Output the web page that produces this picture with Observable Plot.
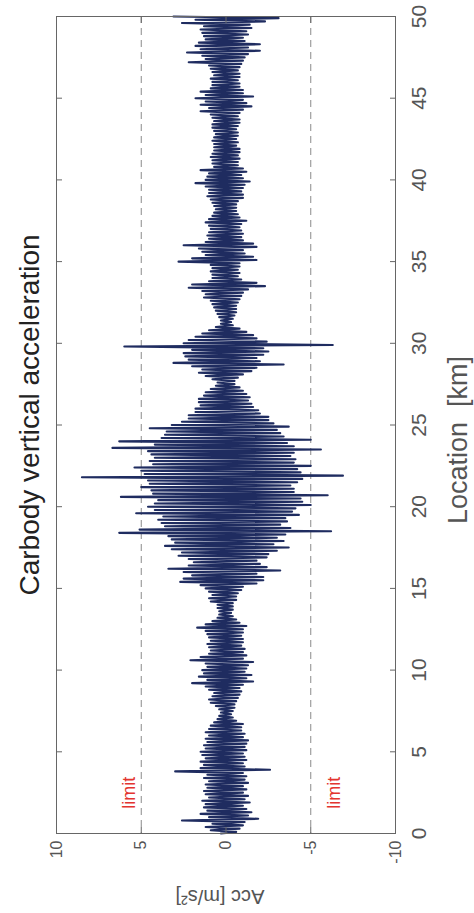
<!DOCTYPE html>
<html><head><meta charset="utf-8">
<script src="https://cdn.jsdelivr.net/npm/d3@7"></script>
<script src="https://cdn.jsdelivr.net/npm/@observablehq/plot@0.6"></script>
<style>
html,body{margin:0;padding:0;background:#fff;}
#chart svg{display:block;}
</style></head>
<body><div id="chart"></div>
<script>
const title = "Carbody vertical acceleration";
const locationLabel = "Location  [km]";
const accLabel = "Acc [m/s²]";
const limitText = "limit";
const locationTicks = [0, 5, 10, 15, 20, 25, 30, 35, 40, 45, 50];
const accTicks = [10, 5, 0, -5, -10];
const limits = [5, -5];
const limitLabels = [{km: 2.5, acc: 5.7}, {km: 2.5, acc: -6.4}];
const locationStartKm = 0;
const locationStepKm = 0.1;
// vertical acceleration samples, one every 0.1 km (rows = 1 km)
const acc = [
 0.3,-0.6,0.9,-0.8,1.2,-1.0,0.8,-1.1,2.6,-1.9,
 1.0,-1.3,1.5,-1.5,1.1,-1.2,1.3,-1.0,1.2,-1.4,
 1.4,-1.1,1.0,-1.3,1.2,-1.0,1.3,-1.2,1.1,-1.0,
 1.2,-1.3,1.0,-1.1,1.3,-1.2,1.1,-1.0,3.0,-2.6,
 1.5,-1.1,1.3,-1.0,1.5,-1.2,1.2,-1.1,1.4,-1.0,
 1.5,-1.2,1.2,-1.1,1.3,-1.2,1.1,-1.3,1.2,-1.0,
 1.0,-1.1,1.2,-0.9,1.0,-0.9,0.9,-1.0,0.7,-0.6,
 0.5,-0.4,0.4,-0.3,0.3,-0.4,0.4,-0.5,0.6,-0.5,
 0.9,-0.6,1.0,-0.7,0.8,-0.8,0.7,-0.9,1.0,-0.8,
 1.2,-1.0,2.0,-1.6,1.1,-1.2,1.6,-1.5,1.3,-1.1,
 1.4,-1.2,1.1,-1.3,1.2,-1.6,2.1,-1.0,1.5,-1.2,
 1.0,-1.0,0.9,-1.1,1.0,-0.9,1.1,-1.0,0.9,-1.0,
 1.0,-0.9,1.1,-1.0,1.2,-1.0,1.7,-1.2,1.2,-0.8,
 0.8,-0.6,0.5,-0.4,0.4,-0.3,0.4,-0.4,0.5,-0.4,
 0.5,-0.4,0.9,-0.6,1.0,-0.6,0.8,-0.7,1.0,-0.9,
 1.2,-1.0,1.5,-1.8,2.7,-2.2,2.5,-2.2,2.0,-1.8,
 2.5,-3.2,3.4,-2.4,2.2,-2.0,1.9,-1.8,2.2,-2.4,
 2.8,-2.5,2.6,-3.0,3.2,-3.7,3.6,-2.8,3.0,-3.4,
 3.2,-3.0,3.4,-3.5,6.3,-6.2,5.1,-3.8,3.6,-3.2,
 3.8,-3.6,4.0,-3.5,3.7,-4.3,5.3,-3.9,4.2,-4.1,
 4.6,-5.0,4.2,-4.5,4.0,-4.4,6.2,-6.0,4.3,-4.0,
 4.4,-4.0,5.0,-3.8,4.5,-4.2,4.6,-4.5,8.5,-6.9,
 4.8,-4.4,5.0,-4.2,5.4,-5.0,4.3,-4.0,4.5,-4.1,
 4.2,-3.8,4.4,-4.0,4.6,-5.6,6.7,-4.0,4.2,-3.6,
 6.3,-5.0,3.8,-3.4,3.6,-3.2,3.5,-3.0,4.5,-3.7,
 3.2,-2.8,2.6,-2.5,2.2,-2.5,2.2,-2.0,1.8,-1.9,
 1.8,-1.6,1.5,-1.5,1.6,-1.3,1.6,-1.4,1.3,-1.2,
 1.2,-1.0,0.9,-0.8,0.6,-0.5,0.5,-0.5,0.8,-0.7,
 1.2,-1.0,1.6,-1.5,1.4,-1.8,2.0,-3.4,3.1,-2.0,
 2.2,-1.8,2.4,-2.2,2.5,-2.5,2.0,-2.2,6.0,-6.3,
 2.5,-2.4,2.2,-1.8,1.8,-1.6,1.4,-1.2,1.0,-0.8,
 0.6,-0.4,0.3,-0.3,0.3,-0.4,0.4,-0.5,0.5,-0.6,
 0.6,-0.6,0.7,-0.6,0.8,-0.7,0.9,-0.8,1.3,-0.9,
 1.2,-1.0,1.4,-1.3,2.2,-2.3,2.0,-1.8,1.0,-0.9,
 0.8,-0.7,0.8,-0.8,0.9,-0.7,0.8,-0.8,0.9,-0.8,
 2.8,-1.8,2.0,-1.6,1.2,-1.1,1.4,-1.0,1.6,-1.8,
 2.5,-1.6,1.2,-1.0,1.0,-0.9,1.1,-1.0,1.0,-0.9,
 0.9,-0.8,1.0,-0.9,1.2,-1.2,1.0,-0.8,0.8,-0.7,
 0.7,-0.6,0.6,-0.6,0.7,-0.6,0.8,-0.7,0.9,-1.0,
 1.1,-1.0,1.0,-0.9,1.0,-1.0,1.2,-1.1,1.8,-1.4,
 1.2,-1.0,1.1,-0.9,1.0,-1.2,1.5,-1.0,0.7,-0.7,
 0.8,-0.7,0.8,-0.8,0.9,-0.7,0.8,-0.8,0.7,-0.8,
 0.7,-0.6,0.7,-0.7,0.8,-0.6,0.7,-0.7,0.6,-0.7,
 0.7,-0.6,0.8,-0.7,0.8,-0.8,0.7,-0.8,0.8,-0.7,
 0.9,-0.8,1.5,-1.0,1.0,-1.5,1.5,-1.2,1.2,-1.0,
 1.8,-1.6,1.2,-1.0,1.5,-1.0,0.9,-0.8,0.8,-0.8,
 0.8,-0.7,0.9,-0.8,0.7,-0.8,0.8,-0.7,0.9,-0.8,
 1.0,-0.9,2.2,-1.0,1.2,-1.1,1.4,-1.3,2.3,-2.0,
 1.5,-1.3,1.8,-2.0,1.6,-1.1,1.2,-1.0,1.3,-1.3,
 1.4,-1.2,1.5,-1.5,1.3,-1.4,2.6,-2.3,1.8,-3.1,
 3.1
];

const signal = acc.map((a, i) => ({km: locationStartKm + i * locationStepKm, acc: a}));

const axisColor = "#666";
const textColor = "#555";

const chart = Plot.plot({
  width: 474,
  height: 913,
  marginTop: 16,
  marginBottom: 80,
  marginLeft: 56,
  marginRight: 79,
  style: {fontFamily: "'Liberation Sans', Arial, Helvetica, sans-serif", background: "#fff", color: textColor, overflow: "visible"},
  x: {domain: [10, -10]},
  y: {domain: [0, 50]},
  marks: [
    Plot.ruleX(limits, {stroke: "#8a8a8a", strokeDasharray: "7,5", strokeWidth: 1}),
    Plot.line(signal, {x: "acc", y: "km", stroke: "#1f2c60", strokeWidth: 2.1}),
    Plot.text(limitLabels, {x: "acc", y: "km", text: () => limitText, rotate: -90, fill: "#e3342f", fontSize: 18, textAnchor: "middle", lineAnchor: "middle"}),
    Plot.frame({stroke: axisColor}),
    Plot.axisX(accTicks, {anchor: "bottom", tickSize: 6, dy: -6, fill: "none", label: null, stroke: axisColor}),
    Plot.axisX(accTicks, {anchor: "top", tickSize: 6, dy: 6, fill: "none", label: null, stroke: axisColor}),
    Plot.axisY(locationTicks, {anchor: "left", tickSize: 6, dx: 6, fill: "none", label: null, stroke: axisColor}),
    Plot.axisY(locationTicks, {anchor: "right", tickSize: 6, dx: -6, fill: "none", label: null, stroke: axisColor}),
    Plot.axisX(accTicks, {anchor: "bottom", tickSize: 0, tickPadding: 7, tickRotate: -90, textAnchor: "end", lineAnchor: "middle", fontSize: 16, fill: textColor, label: null, tickFormat: d => String(d)}),
    Plot.axisY(locationTicks, {anchor: "right", tickSize: 0, tickPadding: 24, tickRotate: -90, textAnchor: "middle", lineAnchor: "middle", fontSize: 21, fill: textColor, label: null, tickFormat: d => String(d)}),
    Plot.text([title], {frameAnchor: "left", dx: -26, dy: -10, rotate: -90, fontSize: 28, fill: "#222", text: d => d, lineAnchor: "middle", textAnchor: "middle"}),
    Plot.text([locationLabel], {frameAnchor: "right", dx: 63, dy: 15, rotate: -90, fontSize: 27, fill: textColor, text: d => d, lineAnchor: "middle", textAnchor: "middle"}),
    Plot.text([accLabel], {frameAnchor: "bottom", dx: -6, dy: 63, rotate: 180, fontSize: 20, fill: textColor, text: d => d, lineAnchor: "middle", textAnchor: "middle"})
  ]
});
document.getElementById("chart").appendChild(chart);
</script>
</body></html>
